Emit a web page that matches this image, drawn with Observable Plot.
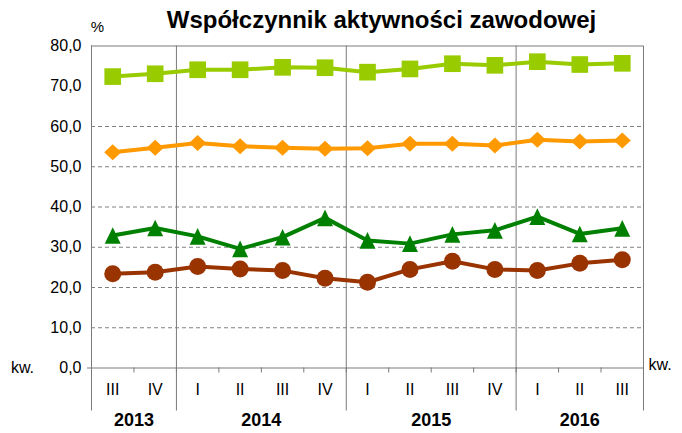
<!DOCTYPE html>
<html>
<head>
<meta charset="utf-8">
<script src="https://cdn.jsdelivr.net/npm/d3@7"></script>
<script src="https://cdn.jsdelivr.net/npm/@observablehq/plot@0.6"></script>
<style>
  html, body { margin: 0; padding: 0; background: #fff; }
  #chart { width: 682px; height: 433px; }
</style>
</head>
<body>
<div id="chart"></div>
<script>
const title = "Współczynnik aktywności zawodowej";
const unitLabel = "%";
const periodLabel = "kw.";
const quarters = ["III","IV","I","II","III","IV","I","II","III","IV","I","II","III"];
const quarterYears = [2013,2013,2014,2014,2014,2014,2015,2015,2015,2015,2016,2016,2016];
const years = [2013,2014,2015,2016];
const yTicks = [0,10,20,30,40,50,60,70,80];
const gridValues = [10,20,30,40,50,60];

const seriesSquares   = [72.4,73.1,74.1,74.1,74.7,74.6,73.5,74.3,75.6,75.2,76.1,75.4,75.7];
const seriesDiamonds  = [53.6,54.7,55.9,55.1,54.7,54.5,54.6,55.7,55.7,55.3,56.7,56.3,56.5];
const seriesTriangles = [32.9,34.8,32.7,29.6,32.5,37.3,31.7,30.9,33.2,34.2,37.6,33.3,34.7];
const seriesCircles   = [23.4,23.8,25.2,24.6,24.2,22.3,21.3,24.5,26.5,24.5,24.2,26.0,26.9];

const idx = quarters.map((_, i) => i);
const toRows = vals => vals.map((v, i) => ({i, v}));
const boundaries = idx.slice(0, -1).map(i => i + 0.5);
const yearBounds = [-0.5, ...idx.filter(i => i > 0 && quarterYears[i] !== quarterYears[i - 1]).map(i => i - 0.5), quarters.length - 0.5];
const yearCenter = y => d3.mean(idx.filter(i => quarterYears[i] === y));

const squareSym = {draw(ctx, size) { const a = Math.sqrt(size) / 2; ctx.moveTo(-a, -a); ctx.lineTo(a, -a); ctx.lineTo(a, a); ctx.lineTo(-a, a); ctx.closePath(); }};
const diamondSym = {draw(ctx, size) { const s = Math.sqrt(size); const w = s * 0.5, h = s * 0.47; ctx.moveTo(0, -h); ctx.lineTo(w, 0); ctx.lineTo(0, h); ctx.lineTo(-w, 0); ctx.closePath(); }};
const triangleSym = {draw(ctx, size) { const s = Math.sqrt(size); const w = s * 0.5, h = s * 0.52; ctx.moveTo(0, -h); ctx.lineTo(w, h); ctx.lineTo(-w, h); ctx.closePath(); }};

const series = [
  {vals: seriesCircles, color: "#993300", symbol: "circle", r: 8.5},
  {vals: seriesTriangles, color: "#008000", symbol: triangleSym, r: 9},
  {vals: seriesDiamonds, color: "#ff9900", symbol: diamondSym, r: 9.6},
  {vals: seriesSquares, color: "#99cc00", symbol: squareSym, r: 9.4}
];

const gridColor = "#808080";
const frameColor = "#7a7a7a";
const font = "'Liberation Sans', Arial, sans-serif";

const marks = [
  Plot.ruleY(gridValues, {stroke: gridColor, strokeDasharray: "4,3", strokeWidth: 1}),
  Plot.ruleY([80], {stroke: frameColor}),
  Plot.ruleY([0], {stroke: frameColor, insetLeft: -4}),
  Plot.ruleX(yearBounds, {stroke: frameColor, insetBottom: -43}),
  Plot.axisX(boundaries, {tickSize: 5, tickFormat: () => "", stroke: frameColor, label: null}),
  Plot.axisX(idx, {tickSize: 0, tickPadding: 16, tickFormat: i => quarters[i], fontSize: 16, label: null}),
  Plot.axisY(yTicks, {tickSize: 0, tickPadding: 10, tickFormat: d => d.toFixed(1).replace(".", ","), fontSize: 16, label: null}),
];
for (const s of series) {
  marks.push(Plot.line(toRows(s.vals), {x: "i", y: "v", stroke: s.color, strokeWidth: 4}));
  marks.push(Plot.dot(toRows(s.vals), {x: "i", y: "v", fill: s.color, stroke: "none", symbol: s.symbol, r: s.r}));
}
marks.push(
  Plot.text(years, {x: yearCenter, frameAnchor: "bottom", dy: 52, text: d => String(d), fontSize: 18, fontWeight: "bold", lineAnchor: "middle"}),
  Plot.text([title], {frameAnchor: "top", dx: 14, dy: -26, fontSize: 24, fontWeight: "bold", lineAnchor: "middle"}),
  Plot.text([unitLabel], {frameAnchor: "top-left", dx: 6, dy: -19, fontSize: 15, lineAnchor: "middle", textAnchor: "middle"}),
  Plot.text([periodLabel], {frameAnchor: "bottom-left", dx: -69, dy: 0, fontSize: 16, lineAnchor: "middle", textAnchor: "middle"}),
  Plot.text([periodLabel], {frameAnchor: "bottom-right", dx: 5, dy: -3, fontSize: 16, lineAnchor: "middle", textAnchor: "start"})
);

const chart = Plot.plot({
  width: 682,
  height: 433,
  marginLeft: 91,
  marginRight: 39,
  marginTop: 45.5,
  marginBottom: 65.5,
  x: {type: "linear", domain: [-0.5, quarters.length - 0.5]},
  y: {type: "linear", domain: [0, 80]},
  style: {fontFamily: font, fontSize: "16px", color: "#000", background: "#fff", overflow: "visible"},
  marks
});
document.getElementById("chart").appendChild(chart);
</script>
</body>
</html>
